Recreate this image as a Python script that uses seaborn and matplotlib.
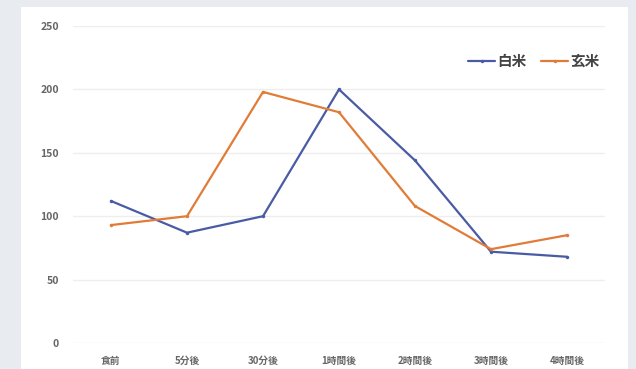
import matplotlib
matplotlib.use("Agg")
import matplotlib.pyplot as plt
import seaborn as sns
import pandas as pd
from matplotlib.patches import Rectangle

categories = ["食前", "5分後", "30分後", "1時間後", "2時間後", "3時間後", "4時間後"]
white_rice = [112, 87, 100, 200, 144, 72, 68]
brown_rice = [93, 100, 198, 182, 108, 74, 85]
series_names = ["白米", "玄米"]
yticks = [0, 50, 100, 150, 200, 250]

sns.set_theme(style="white")
plt.rcParams["font.family"] = ["Noto Sans CJK JP", "DejaVu Sans"]

df = pd.DataFrame({
    "time": categories * 2,
    "x": list(range(len(categories))) * 2,
    "value": white_rice + brown_rice,
    "series": [series_names[0]] * len(categories) + [series_names[1]] * len(categories),
})

fig = plt.figure(figsize=(6.36, 3.69), dpi=100)
fig.patch.set_facecolor("#e8ecf0")
fig.patches.append(Rectangle((21 / 636, 0), (628 - 21) / 636, 1 - 7 / 369,
                             transform=fig.transFigure, facecolor="white",
                             edgecolor="none", zorder=-10))

ax = fig.add_axes([73 / 636, 1 - 343 / 369, (605 - 73) / 636, (343 - 26) / 369])
ax.set_zorder(5)
ax.set_facecolor("none")

palette = {"白米": "#4a5ba6", "玄米": "#e07c38"}
sns.lineplot(data=df, x="x", y="value", hue="series", palette=palette, ax=ax,
             linewidth=1.6, marker="o", markersize=2.5, markeredgewidth=0,
             legend=True)

ax.set_xlim(-0.5, len(categories) - 0.5)
ax.set_ylim(0, 250)
ax.set_yticks(yticks)
ax.set_yticklabels([str(v) for v in yticks], fontsize=7.5, color="#666666",
                   fontweight="bold")
ax.set_xticks(range(len(categories)))
ax.set_xticklabels(categories, fontsize=7, color="#666666", fontweight="bold")
ax.tick_params(axis="both", length=0)
ax.tick_params(axis="y", pad=10)
ax.tick_params(axis="x", pad=9)
ax.grid(axis="y", color="#eeeeee", linewidth=1)
for s in ax.spines.values():
    s.set_visible(False)
ax.set_xlabel("")
ax.set_ylabel("")

leg = ax.legend(loc="upper right", bbox_to_anchor=(1.015, 0.956), ncol=2, frameon=False,
                fontsize=10.5, handlelength=1.8, handletextpad=0.2, columnspacing=1.0,
                labelcolor="#444444", prop={"weight": "bold", "size": 10.5})

fig.savefig("out.png", dpi=100, facecolor=fig.get_facecolor())
